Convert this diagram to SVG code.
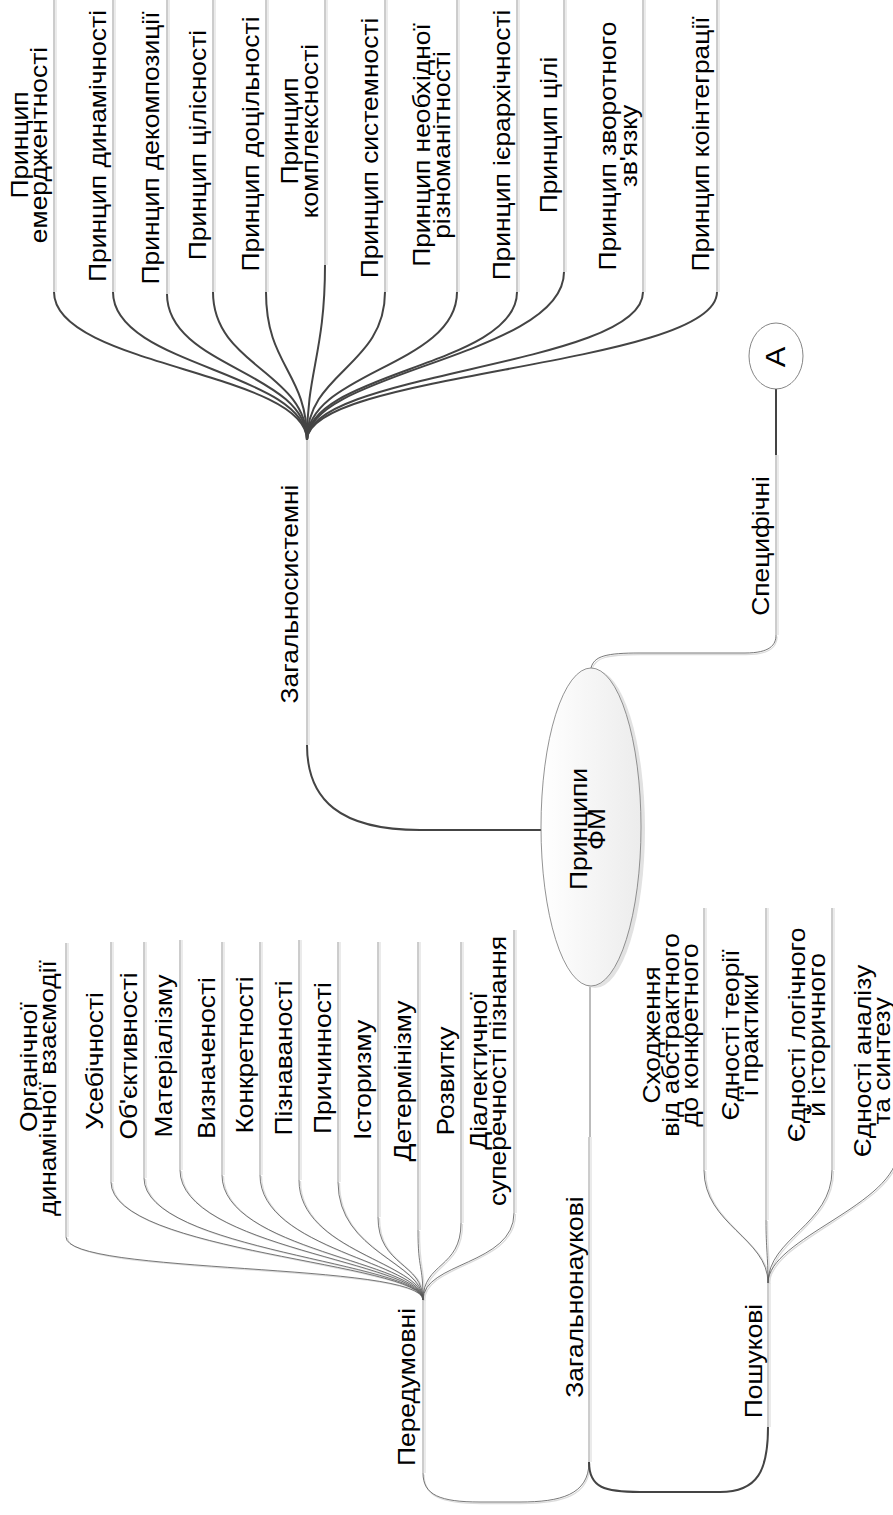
<svg xmlns="http://www.w3.org/2000/svg" width="893" height="1515" viewBox="0 0 893 1515">
<style>
.t{font-family:"Liberation Sans",Arial,sans-serif;font-size:24px;fill:#000;text-anchor:middle}
.a{font-family:"Liberation Sans",Arial,sans-serif;font-size:28px;fill:#000;text-anchor:middle}
.nl{stroke:#9a9a9a;stroke-width:1;fill:none}
.ns{stroke:#e4e4e4;stroke-width:1.5;fill:none}
.cd{stroke:#444;stroke-width:2;fill:none}
.ct{stroke:#555;stroke-width:0.8;fill:none}
.cs{stroke:#dcdcdc;stroke-width:1.3;fill:none}
</style>
<defs>
<linearGradient id="g" x1="0" y1="0" x2="1" y2="0">
<stop offset="0" stop-color="#ffffff"/>
<stop offset="1" stop-color="#ececec"/>
</linearGradient>
</defs>
<rect width="893" height="1515" fill="#fff"/>

<g id="connectors">
<path class="cd" d="M542,830 L420,830 C340,830 307,800 307,745"/>
<path class="cs" transform="translate(1,1.5)" d="M591,668 C594,656 606,653 640,653 L745,653 C770,653 776,645 776,635"/>
<path class="ct" d="M591,668 C594,656 606,653 640,653 L745,653 C770,653 776,645 776,635"/>
<path class="cd" stroke-width="1.5" d="M776,455 L776,389"/>
<path class="ct" stroke="#888" d="M590,985 L590,1137"/>
<path class="cs" transform="translate(1,1.5)" d="M589,1462 C589,1495 560,1502 520,1502 L480,1502 C440,1502 423,1495 423,1473"/>
<path class="ct" d="M589,1462 C589,1495 560,1502 520,1502 L480,1502 C440,1502 423,1495 423,1473"/>
<path class="cd" d="M589,1462 C589,1488 605,1492 640,1492 L720,1492 C758,1492 768,1470 768,1427"/>
<path class="cd" d="M54,292 C54,366 307,372 307,440"/>
<path class="cd" d="M113,292 C113,366 307,372 307,440"/>
<path class="cd" d="M167,294 C167,367 307,372 307,440"/>
<path class="cd" d="M213,292 C213,366 307,372 307,440"/>
<path class="cd" d="M266,292 C266,366 307,372 307,440"/>
<path class="cd" d="M325,265 C325,352 307,372 307,440"/>
<path class="cd" d="M385,292 C385,366 307,372 307,440"/>
<path class="cd" d="M457,292 C457,366 307,372 307,440"/>
<path class="cd" d="M517,292 C517,366 307,372 307,440"/>
<path class="cd" d="M564,272 C564,356 307,372 307,440"/>
<path class="cd" d="M643,292 C643,366 307,372 307,440"/>
<path class="cd" d="M717,292 C717,366 307,372 307,440"/>
<g transform="translate(1.5,1)">
<path class="cs" d="M66,1237 C66,1275 423,1262 423,1300"/>
<path class="cs" d="M111,1182 C111,1253 423,1262 423,1300"/>
<path class="cs" d="M144,1178 C144,1251 423,1262 423,1300"/>
<path class="cs" d="M180,1170 C180,1248 423,1262 423,1300"/>
<path class="cs" d="M222,1175 C222,1250 423,1262 423,1300"/>
<path class="cs" d="M260,1175 C260,1250 423,1262 423,1300"/>
<path class="cs" d="M299,1180 C299,1252 423,1262 423,1300"/>
<path class="cs" d="M338,1182 C338,1253 423,1262 423,1300"/>
<path class="cs" d="M378,1217 C378,1267 423,1262 423,1300"/>
<path class="cs" d="M418,1230 C418,1272 423,1262 423,1300"/>
<path class="cs" d="M461,1223 C461,1269 423,1262 423,1300"/>
<path class="cs" d="M514,1213 C514,1265 423,1262 423,1300"/>
</g>
<path class="ct" d="M66,1237 C66,1275 423,1262 423,1300"/>
<path class="ct" d="M111,1182 C111,1253 423,1262 423,1300"/>
<path class="ct" d="M144,1178 C144,1251 423,1262 423,1300"/>
<path class="ct" d="M180,1170 C180,1248 423,1262 423,1300"/>
<path class="ct" d="M222,1175 C222,1250 423,1262 423,1300"/>
<path class="ct" d="M260,1175 C260,1250 423,1262 423,1300"/>
<path class="ct" d="M299,1180 C299,1252 423,1262 423,1300"/>
<path class="ct" d="M338,1182 C338,1253 423,1262 423,1300"/>
<path class="ct" d="M378,1217 C378,1267 423,1262 423,1300"/>
<path class="ct" d="M418,1230 C418,1272 423,1262 423,1300"/>
<path class="ct" d="M461,1223 C461,1269 423,1262 423,1300"/>
<path class="ct" d="M514,1213 C514,1265 423,1262 423,1300"/>
<g transform="translate(1.5,1)">
<path class="cs" d="M704,1170 C704,1225 768,1238 768,1283"/>
<path class="cs" d="M766,1220 C766,1250 768,1255 768,1283"/>
<path class="cs" d="M832,1170 C832,1225 768,1238 768,1283"/>
<path class="cs" d="M898,1150 C898,1205 768,1238 768,1283"/>
</g>
<path class="ct" d="M704,1170 C704,1225 768,1238 768,1283"/>
<path class="ct" d="M766,1220 C766,1250 768,1255 768,1283"/>
<path class="ct" d="M832,1170 C832,1225 768,1238 768,1283"/>
<path class="ct" d="M898,1150 C898,1205 768,1238 768,1283"/>
</g>

<g id="node-root">
<ellipse cx="595" cy="829" rx="50" ry="159" fill="#e2e2e2"/>
<ellipse cx="591" cy="827" rx="50" ry="159" fill="url(#g)" stroke="#777" stroke-width="0.8"/>
<text class="t" transform="translate(605,829) rotate(-90) scale(1.1,1)"><tspan x="0" y="-18">Принципи</tspan><tspan x="0" y="0">ФМ</tspan></text>
</g>

<g id="node-A">
<ellipse cx="776" cy="356" rx="27" ry="33" fill="#fff" stroke="#666" stroke-width="0.8"/>
<text class="a" transform="translate(785,357) rotate(-90) scale(1.1,1)">А</text>
</g>

<g id="node-zagalnosystemni">
<line class="ns" x1="309" y1="440" x2="309" y2="745"/><line class="nl" x1="307" y1="440" x2="307" y2="745"/>
<text class="t" transform="translate(298,594) rotate(-90) scale(1.1,1)">Загальносистемні</text>
</g>
<g id="node-spetsyfichni">
<line class="ns" x1="778" y1="455" x2="778" y2="635"/><line class="nl" x1="776" y1="455" x2="776" y2="635"/>
<text class="t" transform="translate(769,546) rotate(-90) scale(1.1,1)">Специфічні</text>
</g>
<g id="node-zagalnonaukovi">
<line class="ns" x1="591" y1="1137" x2="591" y2="1462"/><line class="nl" x1="589" y1="1137" x2="589" y2="1462"/>
<text class="t" transform="translate(583,1297) rotate(-90) scale(1.1,1)">Загальнонаукові</text>
</g>
<g id="node-peredumovni">
<line class="ns" x1="425" y1="1300" x2="425" y2="1473"/><line class="nl" x1="423" y1="1300" x2="423" y2="1473"/>
<text class="t" transform="translate(415,1387) rotate(-90) scale(1.1,1)">Передумовні</text>
</g>
<g id="node-poshukovi">
<line class="ns" x1="770" y1="1283" x2="770" y2="1427"/><line class="nl" x1="768" y1="1283" x2="768" y2="1427"/>
<text class="t" transform="translate(762,1361) rotate(-90) scale(1.1,1)">Пошукові</text>
</g>

<g id="node-emerdzhentnist">
<line class="ns" x1="56" y1="-5" x2="56" y2="292"/><line class="nl" x1="54" y1="-5" x2="54" y2="292"/>
<text class="t" transform="translate(47,145) rotate(-90) scale(1.1,1)"><tspan x="0" y="-19">Принцип</tspan><tspan x="0" y="0">емерджентності</tspan></text>
</g>
<g id="node-dynamichnist">
<line class="ns" x1="115" y1="-5" x2="115" y2="292"/><line class="nl" x1="113" y1="-5" x2="113" y2="292"/>
<text class="t" transform="translate(106,146) rotate(-90) scale(1.1,1)">Принцип динамічності</text>
</g>
<g id="node-dekompozytsiia">
<line class="ns" x1="169" y1="-5" x2="169" y2="294"/><line class="nl" x1="167" y1="-5" x2="167" y2="294"/>
<text class="t" transform="translate(159,148) rotate(-90) scale(1.1,1)">Принцип декомпозиції</text>
</g>
<g id="node-tsilisnist">
<line class="ns" x1="215" y1="-5" x2="215" y2="292"/><line class="nl" x1="213" y1="-5" x2="213" y2="292"/>
<text class="t" transform="translate(206,145) rotate(-90) scale(1.1,1)">Принцип цілісності</text>
</g>
<g id="node-dotsilnist">
<line class="ns" x1="268" y1="-5" x2="268" y2="292"/><line class="nl" x1="266" y1="-5" x2="266" y2="292"/>
<text class="t" transform="translate(259,144) rotate(-90) scale(1.1,1)">Принцип доцільності</text>
</g>
<g id="node-kompleksnist">
<line class="ns" x1="327" y1="-5" x2="327" y2="265"/><line class="nl" x1="325" y1="-5" x2="325" y2="265"/>
<text class="t" transform="translate(318,131) rotate(-90) scale(1.1,1)"><tspan x="0" y="-20">Принцип</tspan><tspan x="0" y="0">комплексності</tspan></text>
</g>
<g id="node-systemnist">
<line class="ns" x1="387" y1="-5" x2="387" y2="292"/><line class="nl" x1="385" y1="-5" x2="385" y2="292"/>
<text class="t" transform="translate(378,148) rotate(-90) scale(1.1,1)">Принцип системності</text>
</g>
<g id="node-riznomanitnist">
<line class="ns" x1="459" y1="-5" x2="459" y2="292"/><line class="nl" x1="457" y1="-5" x2="457" y2="292"/>
<text class="t" transform="translate(450,145) rotate(-90) scale(1.1,1)"><tspan x="0" y="-20">Принцип необхідної</tspan><tspan x="0" y="0">різноманітності</tspan></text>
</g>
<g id="node-iierarkhichnist">
<line class="ns" x1="519" y1="-5" x2="519" y2="292"/><line class="nl" x1="517" y1="-5" x2="517" y2="292"/>
<text class="t" transform="translate(510,145) rotate(-90) scale(1.1,1)">Принцип ієрархічності</text>
</g>
<g id="node-tsil">
<line class="ns" x1="566" y1="-5" x2="566" y2="272"/><line class="nl" x1="564" y1="-5" x2="564" y2="272"/>
<text class="t" transform="translate(557,135) rotate(-90) scale(1.1,1)">Принцип цілі</text>
</g>
<g id="node-zvorotnyi-zviazok">
<line class="ns" x1="645" y1="-5" x2="645" y2="292"/><line class="nl" x1="643" y1="-5" x2="643" y2="292"/>
<text class="t" transform="translate(637,146) rotate(-90) scale(1.1,1)"><tspan x="0" y="-21">Принцип зворотного</tspan><tspan x="0" y="0">зв'язку</tspan></text>
</g>
<g id="node-kointehratsiia">
<line class="ns" x1="719" y1="-5" x2="719" y2="292"/><line class="nl" x1="717" y1="-5" x2="717" y2="292"/>
<text class="t" transform="translate(709,144) rotate(-90) scale(1.1,1)">Принцип коінтеграції</text>
</g>

<g id="node-orhanichna">
<line class="ns" x1="68" y1="943" x2="68" y2="1237"/><line class="nl" x1="66" y1="943" x2="66" y2="1237"/>
<text class="t" transform="translate(56,1088) rotate(-90) scale(1.1,1)"><tspan x="19" y="-19">Органічної</tspan><tspan x="0" y="0">динамічної взаємодії</tspan></text>
</g>
<g id="node-usebichnist">
<line class="ns" x1="113" y1="942" x2="113" y2="1182"/><line class="nl" x1="111" y1="942" x2="111" y2="1182"/>
<text class="t" transform="translate(103,1061) rotate(-90) scale(1.1,1)">Усебічності</text>
</g>
<g id="node-obiektyvnist">
<line class="ns" x1="146" y1="942" x2="146" y2="1178"/><line class="nl" x1="144" y1="942" x2="144" y2="1178"/>
<text class="t" transform="translate(137,1056) rotate(-90) scale(1.1,1)">Об'єктивності</text>
</g>
<g id="node-materializm">
<line class="ns" x1="182" y1="940" x2="182" y2="1170"/><line class="nl" x1="180" y1="940" x2="180" y2="1170"/>
<text class="t" transform="translate(172,1056) rotate(-90) scale(1.1,1)">Матеріалізму</text>
</g>
<g id="node-vyznachenist">
<line class="ns" x1="224" y1="942" x2="224" y2="1175"/><line class="nl" x1="222" y1="942" x2="222" y2="1175"/>
<text class="t" transform="translate(215,1058) rotate(-90) scale(1.1,1)">Визначеності</text>
</g>
<g id="node-konkretnist">
<line class="ns" x1="262" y1="942" x2="262" y2="1175"/><line class="nl" x1="260" y1="942" x2="260" y2="1175"/>
<text class="t" transform="translate(253,1055) rotate(-90) scale(1.1,1)">Конкретності</text>
</g>
<g id="node-piznavanist">
<line class="ns" x1="301" y1="940" x2="301" y2="1180"/><line class="nl" x1="299" y1="940" x2="299" y2="1180"/>
<text class="t" transform="translate(292,1058) rotate(-90) scale(1.1,1)">Пізнаваності</text>
</g>
<g id="node-prychynnist">
<line class="ns" x1="340" y1="942" x2="340" y2="1182"/><line class="nl" x1="338" y1="942" x2="338" y2="1182"/>
<text class="t" transform="translate(331,1058) rotate(-90) scale(1.1,1)">Причинності</text>
</g>
<g id="node-istoryzm">
<line class="ns" x1="380" y1="942" x2="380" y2="1217"/><line class="nl" x1="378" y1="942" x2="378" y2="1217"/>
<text class="t" transform="translate(371,1080) rotate(-90) scale(1.1,1)">Історизму</text>
</g>
<g id="node-determinizm">
<line class="ns" x1="420" y1="942" x2="420" y2="1230"/><line class="nl" x1="418" y1="942" x2="418" y2="1230"/>
<text class="t" transform="translate(411,1081) rotate(-90) scale(1.1,1)">Детермінізму</text>
</g>
<g id="node-rozvytok">
<line class="ns" x1="463" y1="942" x2="463" y2="1223"/><line class="nl" x1="461" y1="942" x2="461" y2="1223"/>
<text class="t" transform="translate(454,1081) rotate(-90) scale(1.1,1)">Розвитку</text>
</g>
<g id="node-dialektychna">
<line class="ns" x1="516" y1="930" x2="516" y2="1213"/><line class="nl" x1="514" y1="930" x2="514" y2="1213"/>
<text class="t" transform="translate(506,1071) rotate(-90) scale(1.1,1)"><tspan x="0" y="-19">Діалектичної</tspan><tspan x="0" y="0">суперечності пізнання</tspan></text>
</g>

<g id="node-skhodzhennia">
<line class="ns" x1="706" y1="908" x2="706" y2="1170"/><line class="nl" x1="704" y1="908" x2="704" y2="1170"/>
<text class="t" transform="translate(698,1035) rotate(-90) scale(1.1,1)"><tspan x="0" y="-38">Сходження</tspan><tspan x="0" y="-19">від абстрактного</tspan><tspan x="0" y="0">до конкретного</tspan></text>
</g>
<g id="node-teoriia-praktyka">
<line class="ns" x1="768" y1="908" x2="768" y2="1220"/><line class="nl" x1="766" y1="908" x2="766" y2="1220"/>
<text class="t" transform="translate(758,1035) rotate(-90) scale(1.1,1)"><tspan x="0" y="-19">Єдності теорії</tspan><tspan x="0" y="0">і практики</tspan></text>
</g>
<g id="node-lohichne-istorychne">
<line class="ns" x1="834" y1="908" x2="834" y2="1170"/><line class="nl" x1="832" y1="908" x2="832" y2="1170"/>
<text class="t" transform="translate(825,1035) rotate(-90) scale(1.1,1)"><tspan x="0" y="-20">Єдності логічного</tspan><tspan x="0" y="0">й історичного</tspan></text>
</g>
<g id="node-analiz-syntez">
<line class="ns" x1="900" y1="908" x2="900" y2="1150"/><line class="nl" x1="898" y1="908" x2="898" y2="1150"/>
<text class="t" transform="translate(890,1061) rotate(-90) scale(1.1,1)"><tspan x="0" y="-19">Єдності аналізу</tspan><tspan x="0" y="0">та синтезу</tspan></text>
</g>
</svg>
